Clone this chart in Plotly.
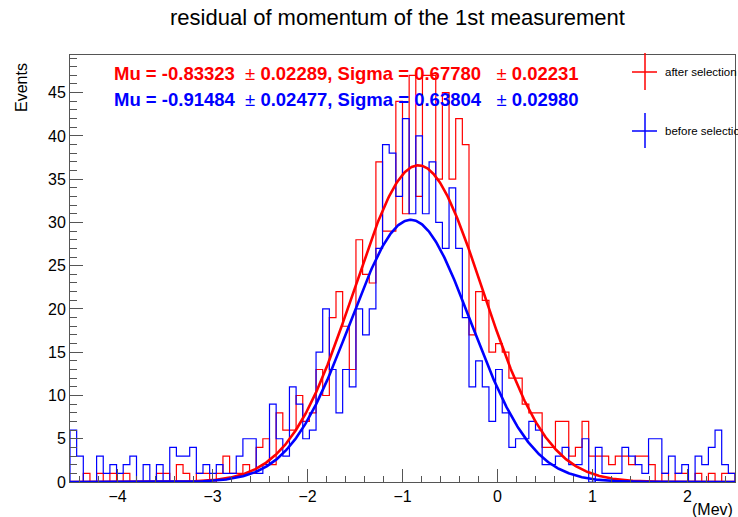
import numpy as np
import plotly.graph_objects as go

# ---------------- data ----------------
x_min, x_max, n_bins = -4.5, 2.5, 100

after_counts = [0, 0, 1, 0, 1, 0, 1, 0, 1, 0,
                0, 0, 0, 1, 1, 0, 2, 1, 0, 1,
                1, 0, 1, 3, 1, 1, 2, 1, 4, 5,
                2, 8, 6, 6, 10, 7, 8, 13, 10, 19,
                22, 18, 13, 28, 24, 23, 37, 29, 29, 44,
                31, 47, 33, 47, 47, 35, 45, 35, 42, 39,
                17, 22, 21, 15, 16, 15, 12, 12, 9, 8,
                8, 4, 4, 7, 7, 3, 4, 7, 3, 3,
                3, 2, 3, 3, 2, 3, 3, 2, 0, 1,
                0, 1, 1, 0, 1, 0, 1, 0, 1, 1]

before_counts = [6, 3, 0, 0, 3, 1, 2, 1, 2, 3,
                 0, 2, 0, 2, 0, 4, 3, 3, 4, 1,
                 2, 1, 2, 1, 1, 3, 5, 5, 1, 2,
                 9, 5, 3, 11, 9, 5, 6, 15, 20, 13,
                 8, 13, 11, 20, 17, 20, 27, 39, 38, 33,
                 42, 31, 40, 31, 37, 30, 27, 34, 27, 19,
                 11, 14, 11, 7, 13, 8, 4, 5, 5, 7,
                 6, 2, 2, 3, 4, 2, 2, 5, 0, 4,
                 1, 1, 1, 4, 3, 2, 1, 5, 5, 1,
                 3, 1, 2, 0, 3, 2, 4, 6, 2, 1]

fit_after = dict(mu=-0.83323, mu_err=0.02289, sigma=0.67780, sigma_err=0.02231, const=36.6)
fit_before = dict(mu=-0.91484, mu_err=0.02477, sigma=0.63804, sigma_err=0.02980, const=30.3)

y_max = 49.35
title_text = "residual of momentum of the 1st measurement"
x_title = "(Mev)"
y_title = "Events"
legend_labels = ["after selection", "before selection"]

RED = "#ff0000"
BLUE = "#0000ff"
FRAME = "#555555"
FONT = "Liberation Sans, Arial, Helvetica, sans-serif"

# ---------------- geometry (pixels) ----------------
W, H = 738, 517
L, R, T, B = 70, 3, 55, 35
PW, PH = W - L - R, H - T - B


def px(xp):
    return (xp - L) / PW


def py(yp):
    return (H - B - yp) / PH


edges = np.linspace(x_min, x_max, n_bins + 1)


def hist_xy(counts):
    xs = [edges[0]] + list(edges[:-1]) + [edges[-1], edges[-1]]
    ys = [0] + list(counts) + [counts[-1], 0]
    return xs, ys


def gauss(fit, xs):
    return fit["const"] * np.exp(-0.5 * ((xs - fit["mu"]) / fit["sigma"]) ** 2)


fig = go.Figure()
xa, ya = hist_xy(after_counts)
xb, yb = hist_xy(before_counts)
fig.add_trace(go.Scatter(x=xa, y=ya, mode="lines", line=dict(color=RED, width=1.2, shape="hv"),
                         hoverinfo="skip", showlegend=False))
fig.add_trace(go.Scatter(x=xb, y=yb, mode="lines", line=dict(color=BLUE, width=1.2, shape="hv"),
                         hoverinfo="skip", showlegend=False))
xc = np.linspace(x_min, x_max, 801)
fig.add_trace(go.Scatter(x=xc, y=gauss(fit_after, xc), mode="lines",
                         line=dict(color=RED, width=2.6), hoverinfo="skip", showlegend=False))
fig.add_trace(go.Scatter(x=xc, y=gauss(fit_before, xc), mode="lines",
                         line=dict(color=BLUE, width=2.6), hoverinfo="skip", showlegend=False))

axis_common = dict(showline=True, linecolor=FRAME, linewidth=1, mirror=True, showgrid=False,
                   zeroline=False, ticks="inside", tickcolor=FRAME, ticklen=13,
                   tickfont=dict(family=FONT, size=16, color="black"))

fig.update_xaxes(range=[x_min, x_max], dtick=1, tick0=0,
                 minor=dict(dtick=0.2, tick0=0, ticks="inside", ticklen=6.5, tickcolor=FRAME, showgrid=False),
                 **axis_common)
fig.update_yaxes(range=[0, y_max], dtick=5, tick0=0,
                 minor=dict(dtick=1, tick0=0, ticks="inside", ticklen=6.5, tickcolor=FRAME, showgrid=False),
                 **axis_common)

ann = []
ann.append(dict(text=title_text, x=px(397), y=py(18), xref="paper", yref="paper",
                xanchor="center", yanchor="middle", showarrow=False,
                font=dict(family=FONT, size=22, color="black")))
ann.append(dict(text=x_title, x=1.0, y=py(509), xref="paper", yref="paper",
                xanchor="right", yanchor="middle", showarrow=False,
                font=dict(family=FONT, size=16, color="black")))
ann.append(dict(text=y_title, x=px(22), y=py(88), xref="paper", yref="paper", textangle=-90,
                xanchor="center", yanchor="middle", showarrow=False,
                font=dict(family=FONT, size=16, color="black")))


def fit_label(f):
    nb = "\u00a0"
    return (f"<b>Mu = {f['mu']:.5f}</b>{nb}{nb}± <b>{f['mu_err']:.5f}, Sigma = {f['sigma']:.5f}</b>"
            f"{nb}{nb}{nb}± <b>{f['sigma_err']:.5f}</b>")


for f, col, yp in [(fit_after, RED, 73), (fit_before, BLUE, 99)]:
    ann.append(dict(text=fit_label(f), x=px(112), y=py(yp), xref="paper", yref="paper",
                    xanchor="left", yanchor="middle", showarrow=False,
                    font=dict(family=FONT, size=18.5, color=col)))

shapes = []
for lab, col, yc, (y0, y1) in [(legend_labels[0], RED, 72, (53, 90)), (legend_labels[1], BLUE, 131, (113, 148))]:
    shapes.append(dict(type="line", xref="paper", yref="paper", x0=px(645), x1=px(645), y0=py(y0), y1=py(y1),
                       line=dict(color=col, width=1.5)))
    shapes.append(dict(type="line", xref="paper", yref="paper", x0=px(632), x1=px(657), y0=py(yc), y1=py(yc),
                       line=dict(color=col, width=1.5)))
    ann.append(dict(text=lab, x=px(663), y=py(yc), xref="paper", yref="paper",
                    xanchor="left", yanchor="middle", showarrow=False,
                    font=dict(family=FONT, size=11.5, color="black")))

fig.update_layout(width=W, height=H, margin=dict(l=L, r=R, t=T, b=B, pad=0),
                  paper_bgcolor="white", plot_bgcolor="white", annotations=ann, shapes=shapes,
                  showlegend=False)

fig.write_html("out.html")
